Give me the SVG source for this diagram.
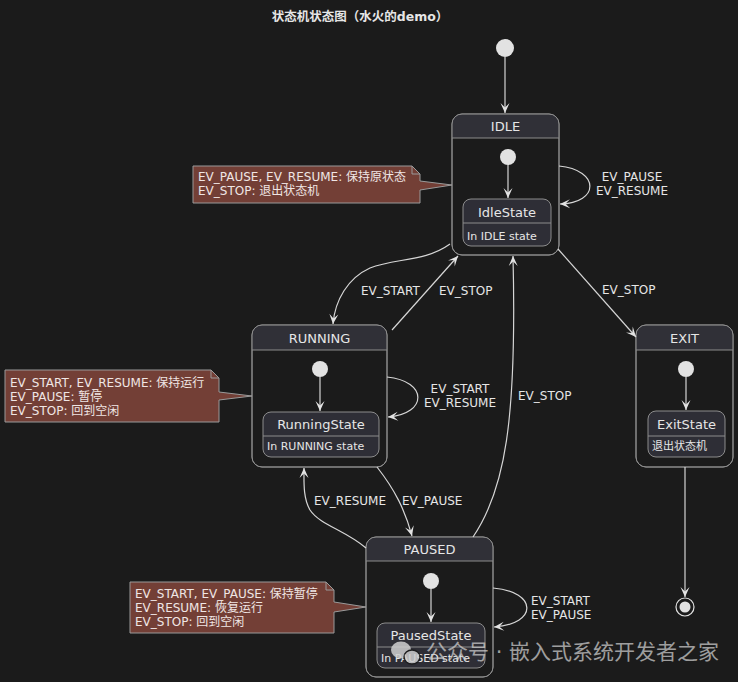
<svg xmlns="http://www.w3.org/2000/svg" width="738" height="682" viewBox="0 0 738 682">
<defs>
<style>
text{font-family:"DejaVu Sans","Noto Sans CJK SC",sans-serif;fill:#e6e6e6}
.title{font-size:12.5px;font-weight:bold;text-anchor:middle}
.hdr{font-size:13px;text-anchor:middle}
.sn{font-size:13px;text-anchor:middle}
.desc{font-size:11px}
.lbl{font-size:12px}
.lblc{font-size:12px;text-anchor:middle}
.note{font-size:12px;fill:#f0e6e4}
.box{fill:#1b1b1b;stroke:#8c8c8c;stroke-width:1}
.head{fill:#303037}
.sep{stroke:#8c8c8c;stroke-width:1}
.inner{fill:#2e2e36;stroke:#8c8c8c;stroke-width:1}
.dot{fill:#e2e2e2}
.edge{fill:none;stroke:#d6d6d6;stroke-width:1.2;marker-end:url(#arr)}
.notebg{fill:#733f36;stroke:#9a9a9a;stroke-width:1}
.wm{font-size:21px;fill:#d0d0d0;opacity:0.85}
</style>
<marker id="arr" viewBox="-11 -6 12 12" refX="0" refY="0" markerWidth="12" markerHeight="12" markerUnits="userSpaceOnUse" orient="auto">
<path d="M0,0 L-10,-4.5 L-5.5,0 L-10,4.5 Z" fill="#e2e2e2"/>
</marker>
</defs>
<rect width="738" height="682" fill="#1b1b1b"/>
<text class="title" x="360" y="21">状态机状态图（水火的demo）</text>

<g id="start">
<circle class="dot" cx="505" cy="48" r="9"/>
</g>

<g id="IDLE">
<rect class="box" x="452" y="114" width="107" height="141" rx="10"/>
<path class="head" d="M452.5,138 L452.5,124 Q452.5,114.5 462,114.5 L549,114.5 Q558.5,114.5 558.5,124 L558.5,138 Z"/>
<rect x="452" y="114" width="107" height="141" rx="10" fill="none" stroke="#8c8c8c"/>
<line class="sep" x1="452" y1="138" x2="559" y2="138"/>
<text class="hdr" x="505.5" y="131">IDLE</text>
<circle class="dot" cx="508" cy="157" r="8"/>
<rect class="inner" x="463" y="199" width="88" height="47" rx="8"/>
<line class="sep" x1="463" y1="223" x2="551" y2="223"/>
<text class="sn" x="507" y="216.5">IdleState</text>
<text class="desc" x="467" y="239.5">In IDLE state</text>
</g>

<g id="RUNNING">
<rect class="box" x="252" y="325" width="135" height="142" rx="10"/>
<path class="head" d="M252.5,350 L252.5,335 Q252.5,325.5 262,325.5 L377,325.5 Q386.5,325.5 386.5,335 L386.5,350 Z"/>
<rect x="252" y="325" width="135" height="142" rx="10" fill="none" stroke="#8c8c8c"/>
<line class="sep" x1="252" y1="350" x2="387" y2="350"/>
<text class="hdr" x="319.5" y="342.5">RUNNING</text>
<circle class="dot" cx="320" cy="369" r="8"/>
<rect class="inner" x="263" y="412" width="116" height="45" rx="8"/>
<line class="sep" x1="263" y1="436" x2="379" y2="436"/>
<text class="sn" x="321" y="428.5">RunningState</text>
<text class="desc" x="267" y="450">In RUNNING state</text>
</g>

<g id="EXIT">
<rect class="box" x="636" y="325" width="97" height="142" rx="10"/>
<path class="head" d="M636.5,350 L636.5,335 Q636.5,325.5 646,325.5 L723,325.5 Q732.5,325.5 732.5,335 L732.5,350 Z"/>
<rect x="636" y="325" width="97" height="142" rx="10" fill="none" stroke="#8c8c8c"/>
<line class="sep" x1="636" y1="350" x2="733" y2="350"/>
<text class="hdr" x="684.5" y="342.5">EXIT</text>
<circle class="dot" cx="686" cy="369" r="8"/>
<rect class="inner" x="648" y="411" width="77" height="46" rx="8"/>
<line class="sep" x1="648" y1="436" x2="725" y2="436"/>
<text class="sn" x="686.5" y="428.5">ExitState</text>
<text class="desc" x="652" y="450">退出状态机</text>
</g>

<g id="PAUSED">
<rect class="box" x="366" y="537" width="127" height="140" rx="10"/>
<path class="head" d="M366.5,561 L366.5,547 Q366.5,537.5 376,537.5 L483,537.5 Q492.5,537.5 492.5,547 L492.5,561 Z"/>
<rect x="366" y="537" width="127" height="140" rx="10" fill="none" stroke="#8c8c8c"/>
<line class="sep" x1="366" y1="561" x2="493" y2="561"/>
<text class="hdr" x="429.5" y="553.5">PAUSED</text>
<circle class="dot" cx="431" cy="581" r="8"/>
<rect class="inner" x="377" y="623" width="108" height="45" rx="8"/>
<line class="sep" x1="377" y1="647" x2="485" y2="647"/>
<text class="sn" x="431" y="640">PausedState</text>
<text class="desc" x="381" y="662">In PAUSED state</text>
</g>

<g id="final">
<circle cx="685" cy="607" r="9" fill="none" stroke="#e2e2e2" stroke-width="1.2"/>
<circle class="dot" cx="685" cy="607" r="5.5"/>
</g>

<g id="note-idle">
<path class="notebg" d="M193,166 L412,166 L420,174 L420,181 L452,185 L420,190 L420,203 L193,203 Z"/>
<path d="M412,166 L412,174 L420,174" fill="none" stroke="#9a9a9a"/>
<text class="note" x="198" y="181">EV_PAUSE, EV_RESUME: 保持原状态</text>
<text class="note" x="198" y="195">EV_STOP: 退出状态机</text>
</g>

<g id="note-running">
<path class="notebg" d="M5,370 L211,370 L219,378 L219,392 L252,396 L219,400 L219,422 L5,422 Z"/>
<path d="M211,370 L211,378 L219,378" fill="none" stroke="#9a9a9a"/>
<text class="note" x="10" y="387">EV_START, EV_RESUME: 保持运行</text>
<text class="note" x="10" y="401">EV_PAUSE: 暂停</text>
<text class="note" x="10" y="415">EV_STOP: 回到空闲</text>
</g>

<g id="note-paused">
<path class="notebg" d="M130,582 L326,582 L334,590 L334,602 L366,607 L334,612 L334,633 L130,633 Z"/>
<path d="M326,582 L326,590 L334,590" fill="none" stroke="#9a9a9a"/>
<text class="note" x="135" y="598">EV_START, EV_PAUSE: 保持暂停</text>
<text class="note" x="135" y="612">EV_RESUME: 恢复运行</text>
<text class="note" x="135" y="626">EV_STOP: 回到空闲</text>
</g>

<g id="connectors">
<path class="edge" d="M505,57 L505,113"/>
<path class="edge" d="M508,165 L508,198"/>
<path class="edge" d="M320,377 L320,411"/>
<path class="edge" d="M686,377 L686,410"/>
<path class="edge" d="M431,589 L431,622"/>
<path class="edge" d="M559,166 C600,170 600,203 560,204"/>
<path class="edge" d="M387,377 C428,381 428,414 388,417"/>
<path class="edge" d="M493,588 C538,592 538,624 494,627"/>
<path class="edge" d="M450,244 C425,262 395,258 370,268 C348,278 335,300 333,324"/>
<path class="edge" d="M392,330 L458,256"/>
<path class="edge" d="M473,537 C505,490 517,420 513,256"/>
<path class="edge" d="M558,249 L636,337"/>
<path class="edge" d="M377,467 C395,490 405,510 412,536"/>
<path class="edge" d="M366,548 C345,530 320,525 310,510 C303,498 304,482 304,468"/>
<path class="edge" d="M685,467 L685,597"/>
<text class="lblc" x="632" y="181">EV_PAUSE</text>
<text class="lblc" x="632" y="195">EV_RESUME</text>
<text class="lblc" x="460" y="393">EV_START</text>
<text class="lblc" x="460" y="407">EV_RESUME</text>
<text class="lbl" x="531" y="605">EV_START</text>
<text class="lbl" x="531" y="619">EV_PAUSE</text>
<text class="lbl" x="361" y="295">EV_START</text>
<text class="lbl" x="439" y="295">EV_STOP</text>
<text class="lbl" x="602" y="294">EV_STOP</text>
<text class="lbl" x="518" y="400">EV_STOP</text>
<text class="lbl" x="314" y="505">EV_RESUME</text>
<text class="lbl" x="402" y="505">EV_PAUSE</text>
</g>

<g id="watermark" opacity="0.85">
<ellipse cx="401" cy="650" rx="10" ry="8.5" fill="#d0d0d0"/>
<ellipse cx="412" cy="657" rx="8" ry="7" fill="#d0d0d0" stroke="#1b1b1b" stroke-width="1.5"/>
<text class="wm" x="426" y="659" opacity="1">公众号 · 嵌入式系统开发者之家</text>
</g>
</svg>
